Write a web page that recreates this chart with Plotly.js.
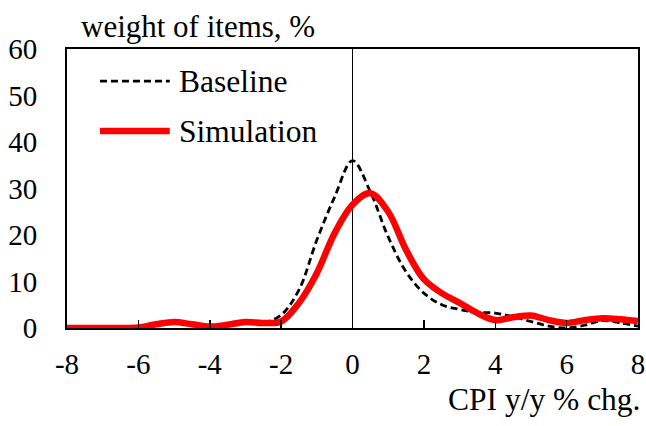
<!DOCTYPE html>
<html>
<head>
<meta charset="utf-8">
<script src="https://cdn.plot.ly/plotly-3.0.1.min.js"></script>
<style>html,body{margin:0;padding:0;background:#fff;}#chart{width:646px;height:426px;}</style>
</head>
<body>
<div id="chart"></div>
<script>
// CPI y/y % change grid
const cpiChange = [-8,-7.5,-7,-6.5,-6,-5.5,-5,-4.5,-4,-3.5,-3,-2.5,-2,-1.5,-1,-0.5,0,0.5,1,1.5,2,2.5,3,3.5,4,4.5,5,5.5,6,6.5,7,7.5,8];
// weight of items, %
const baselineWeights = [0,0,0,0,0.1,0.8,1.3,0.8,0.3,0.7,1.3,1.1,2.8,8.2,18.9,28.2,36,29.3,19.6,12.1,7.5,5.0,4.0,3.4,3.2,2.4,1.4,0.4,0.0,0.6,1.6,1.1,0.4];
const simulationWeights = [0,0,0,0,0.1,0.8,1.3,0.8,0.3,0.7,1.3,1.1,1.4,5.4,11.8,20.4,26.5,29,25,16.8,10.5,7.5,5.4,3.2,1.7,2.3,2.7,1.7,1.1,1.7,2.1,1.9,1.5];
const seriesNames = ["Baseline","Simulation"];
const xTicks = [-8,-6,-4,-2,0,2,4,6,8];
const yTicks = [0,10,20,30,40,50,60];
const chartTitle = "weight of items, %";
const xTitle = "CPI y/y % chg.";

const FONT = "Liberation Serif, Times New Roman, serif";

const traces = [
  {x: cpiChange, y: baselineWeights, name: seriesNames[0], type: "scatter", mode: "lines",
   line: {color: "#000000", width: 2.8, dash: "7px,4px", shape: "spline", smoothing: 1}},
  {x: cpiChange, y: simulationWeights, name: seriesNames[1], type: "scatter", mode: "lines",
   line: {color: "#ff0000", width: 6.5, shape: "spline", smoothing: 1}}
];

const layout = {
  width: 646, height: 426,
  margin: {l: 67, r: 8, t: 49, b: 98},
  paper_bgcolor: "#ffffff", plot_bgcolor: "#ffffff",
  showlegend: false,
  font: {family: FONT, size: 29, color: "#000000"},
  title: {text: chartTitle, x: 81/646, xanchor: "left", y: 1 - 26/426, yanchor: "middle",
          font: {family: FONT, size: 31, color: "#000000"}},
  xaxis: {range: [-8, 8], tickvals: xTicks, ticktext: xTicks.map(String),
          showgrid: false, zeroline: true, zerolinecolor: "#000000", zerolinewidth: 1.6,
          showline: true, linecolor: "#000000", linewidth: 2, mirror: true,
          ticks: "inside", ticklen: 8, tickwidth: 1.5, tickcolor: "#000000",
          ticklabelstandoff: 9, tickfont: {family: FONT, size: 29, color: "#000000"}},
  yaxis: {range: [0, 60], tickvals: yTicks, ticktext: yTicks.map(String),
          showgrid: false, zeroline: false,
          showline: true, linecolor: "#000000", linewidth: 2, mirror: true,
          ticks: "", ticklabelstandoff: 22, tickfont: {family: FONT, size: 29, color: "#000000"}},
  shapes: [
    {type: "line", xref: "paper", yref: "paper", x0: 0.0577, x1: 0.180, y0: 0.885, y1: 0.885,
     line: {color: "#000000", width: 2.8, dash: "7px,4px"}},
    {type: "line", xref: "paper", yref: "paper", x0: 0.0577, x1: 0.180, y0: 0.706, y1: 0.706,
     line: {color: "#ff0000", width: 6.5}}
  ],
  annotations: [
    {text: seriesNames[0], xref: "paper", yref: "paper", x: 0.1925, y: 0.885, xanchor: "left", yanchor: "middle",
     showarrow: false, font: {family: FONT, size: 31.5, color: "#000000"}},
    {text: seriesNames[1], xref: "paper", yref: "paper", x: 0.1925, y: 0.706, xanchor: "left", yanchor: "middle",
     showarrow: false, font: {family: FONT, size: 31.5, color: "#000000"}},
    {text: xTitle, xref: "paper", yref: "paper", x: 1.008, y: -0.255, xanchor: "right", yanchor: "middle",
     showarrow: false, font: {family: FONT, size: 31.5, color: "#000000"}}
  ]
};

Plotly.newPlot("chart", traces, layout, {staticPlot: true, displayModeBar: false});
</script>
</body>
</html>
